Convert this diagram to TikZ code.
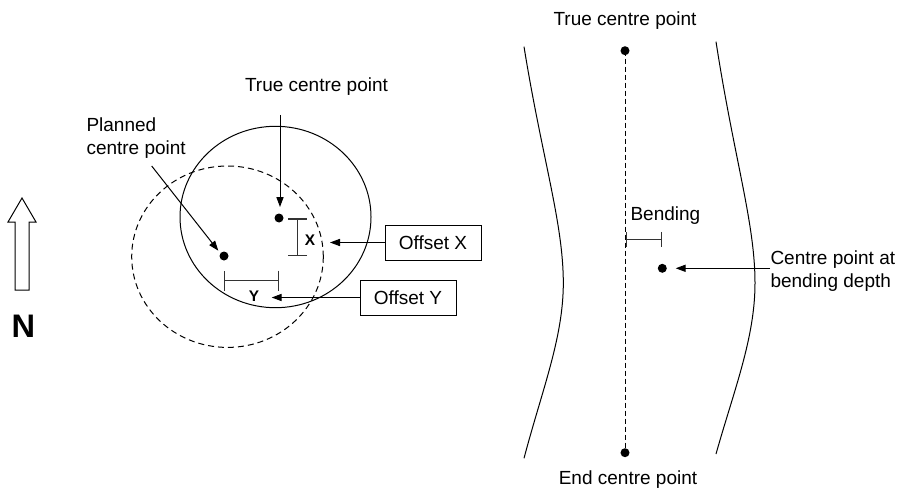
\documentclass[tikz,border=0pt]{standalone}
\usepackage{fontspec}
\setmainfont{Liberation Sans}
\usetikzlibrary{arrows.meta}

\begin{document}
\begin{tikzpicture}[x=0.5pt, y=0.5pt, line width=0.5pt,
    lbl/.style={font=\fontsize{9.5pt}{11.3pt}\selectfont, inner sep=0pt, align=left},
    boxed/.style={lbl, draw, minimum width=48pt, minimum height=17.5pt},
    arr/.style={-{Triangle[length=5pt, width=3.6pt]}},
    dim/.style={draw=black!80, line width=0.7pt},
    dot/.style={fill=black}]
  \useasboundingbox (0,0) rectangle (898,488);

  % Nordpfeil
  \draw (15,198)--(15,266)--(8,266)--(22,290)--(36,266)--(29,266)--(29,198)--cycle;
  \node[font=\fontsize{16.3pt}{18pt}\selectfont\bfseries, inner sep=0pt] (north) at (23.5,161.5) {N};

  % Bohrloch geplant (gestrichelt) und tatsaechlich (durchgezogen)
  \coordinate (T) at (279,270);
  \coordinate (P) at (224,232);
  \draw (275.5,271) ellipse [x radius=95.5, y radius=90.7];
  \draw[dashed, dash pattern=on 3pt off 2pt] (227.5,231.3) ellipse [x radius=95.8, y radius=90.7];
  \fill[dot] (T) circle (4.5);
  \fill[dot] (P) circle (4.5);

  \node[lbl] (tcp) at (316.5,401) {True centre point};
  \coordinate (Ttop) at (280,373);
  \coordinate (Ttip) at (280,281);
  \draw[arr] (Ttop) -- (Ttip);

  \node[lbl, anchor=west] (pcp) at (86,350) {Planned\\centre point};
  \coordinate (Ptop) at (151.7,322);
  \coordinate (Ptip) at (218.3,237.3);
  \draw[arr] (Ptop) -- (Ptip);

  % Versatz X
  \coordinate (Xa) at (297.7,269.7);
  \coordinate (Xb) at (297.7,232);
  \draw[dim, {Bar[width=9.5pt]}-{Bar[width=9.5pt]}] (Xa) -- (Xb);
  \node[font=\fontsize{7.7pt}{9pt}\selectfont\bfseries, inner sep=0pt] (xl) at (310,248) {X};
  \node[boxed] (offx) at (433,245.5) {Offset X};
  \coordinate (Xtip) at (330,245.5);
  \draw[arr] (offx.west) -- (Xtip);

  % Versatz Y
  \coordinate (Ya) at (224,207.3);
  \coordinate (Yb) at (279,207.3);
  \draw[dim, {Bar[width=10pt]}-{Bar[width=10pt]}] (Ya) -- (Yb);
  \node[font=\fontsize{7.7pt}{9pt}\selectfont\bfseries, inner sep=0pt] (yl) at (254,191.3) {Y};
  \node[boxed] (offy) at (408,190.5) {Offset Y};
  \coordinate (Ytip) at (271.7,190.5);
  \draw[arr] (offy.west) -- (Ytip);

  % Bohrung im Schnitt
  \coordinate (S) at (625,437.3);
  \coordinate (E) at (625,35.3);
  \coordinate (B) at (662.3,219.7);
  \node[lbl] (stcp) at (625,467.3) {True centre point};
  \node[lbl] (ecp) at (628,8) {End centre point};
  \draw (524,441.3) .. controls (542,330) and (563.3,265) .. (563.3,205)
                    .. controls (563.3,150) and (542,98) .. (524,29.7);
  \draw (716,446.3) .. controls (734,330) and (755,265) .. (755,205)
                    .. controls (755,150) and (734,98) .. (716,34);
  \draw[dashed, dash pattern=on 2.5pt off 1.5pt] (S) -- (E);
  \fill[dot] (S) circle (4.5);
  \fill[dot] (E) circle (4.5);
  \fill[dot] (B) circle (4.5);

  % Biegung
  \coordinate (Ba) at (626,248.7);
  \coordinate (Bb) at (662.3,248.7);
  \draw[dim, {Bar[width=7.5pt]}-{Bar[width=7.5pt]}] (Ba) -- (Bb);
  \node[lbl] (bend) at (665.4,272) {Bending};
  \node[lbl, anchor=west] (cpbd) at (770,217) {Centre point at\\bending depth};
  \coordinate (Btip) at (675.7,219.7);
  \draw[arr] (cpbd.west |- B) -- (Btip);
\end{tikzpicture}
\end{document}
